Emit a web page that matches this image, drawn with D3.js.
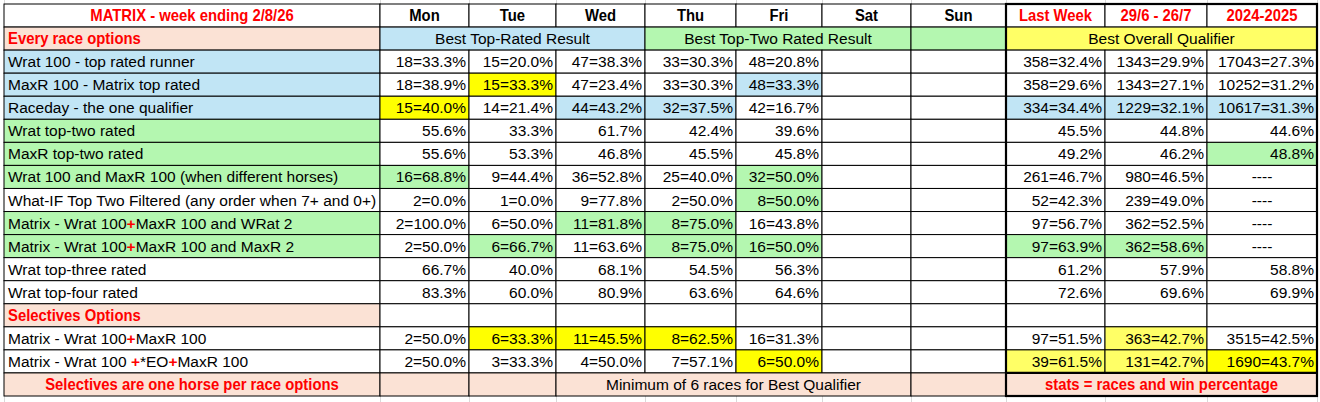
<!DOCTYPE html>
<html><head><meta charset="utf-8">
<script src="https://cdn.jsdelivr.net/npm/d3@7"></script>
<style>body{margin:0;background:#fff}svg{display:block}text{font-family:"Liberation Sans Narrow","Arial Narrow","Liberation Sans",sans-serif}</style>
</head><body><svg id="c" width="1320" height="402"></svg>
<script>
const title = "MATRIX - week ending 2/8/26";
const columns = ["Mon","Tue","Wed","Thu","Fri","Sat","Sun","Last Week","29/6 - 26/7","2024-2025"];
const rowLabels = [
 "Wrat 100 - top rated runner","MaxR 100 - Matrix top rated","Raceday - the one qualifier",
 "Wrat top-two rated","MaxR top-two rated","Wrat 100 and MaxR 100 (when different horses)",
 "What-IF Top Two Filtered (any order when 7+ and 0+)","Matrix - Wrat 100+MaxR 100 and WRat 2",
 "Matrix - Wrat 100+MaxR 100 and MaxR  2","Wrat top-three rated","Wrat top-four rated",
 "Selectives Options","Matrix - Wrat 100+MaxR 100","Matrix - Wrat 100 +*EO+MaxR 100"];
const mon = ["18=33.3%","18=38.9%","15=40.0%","55.6%","55.6%","16=68.8%","2=0.0%","2=100.0%","2=50.0%","66.7%","83.3%","","2=50.0%","2=50.0%"];
const tue = ["15=20.0%","15=33.3%","14=21.4%","33.3%","53.3%","9=44.4%","1=0.0%","6=50.0%","6=66.7%","40.0%","60.0%","","6=33.3%","3=33.3%"];
const wed = ["47=38.3%","47=23.4%","44=43.2%","61.7%","46.8%","36=52.8%","9=77.8%","11=81.8%","11=63.6%","68.1%","80.9%","","11=45.5%","4=50.0%"];
const thu = ["33=30.3%","33=30.3%","32=37.5%","42.4%","45.5%","25=40.0%","2=50.0%","8=75.0%","8=75.0%","54.5%","63.6%","","8=62.5%","7=57.1%"];
const fri = ["48=20.8%","48=33.3%","42=16.7%","39.6%","45.8%","32=50.0%","8=50.0%","16=43.8%","16=50.0%","56.3%","64.6%","","16=31.3%","6=50.0%"];
const sat = Array(14).fill("");
const sun = Array(14).fill("");
const lastWeek = ["358=32.4%","358=29.6%","334=34.4%","45.5%","49.2%","261=46.7%","52=42.3%","97=56.7%","97=63.9%","61.2%","72.6%","","97=51.5%","39=61.5%"];
const month = ["1343=29.9%","1343=27.1%","1229=32.1%","44.8%","46.2%","980=46.5%","239=49.0%","362=52.5%","362=58.6%","57.9%","69.6%","","363=42.7%","131=42.7%"];
const season = ["17043=27.3%","10252=31.2%","10617=31.3%","44.6%","48.8%","----","----","----","----","58.8%","69.9%","","3515=42.5%","1690=43.7%"];
const sectionHeaders = ["Best Top-Rated Result","Best Top-Two Rated Result","Best Overall Qualifier"];
const footer = ["Selectives are one horse per race options","Minimum of 6 races for Best Qualifier","stats = races and win percentage"];
const labelFill = ["b","b","b","g","g","g","","g","g","","","s","",""];
const cellFill = [
 "..........",".y..b.....","y.bb...bbb","..........",".........g","g...g.....",
 "....g.....","..gg......",".g.gg..gg.","..........","..........","..........",".yyy....l.","....y..lly"];

const C = {b:"#c1e5f5",g:"#b4f7b0",y:"#ffff00",l:"#ffff66",s:"#fbe2d5"};
const edges=[4,380,469,556,645,736,822,911,1006,1105,1207,1317];
const svg=d3.select("#c");
const nRows=17;
const y=d3.scaleBand().domain(d3.range(nRows)).range([4,396]);
const rh=y.bandwidth();
const cols=[mon,tue,wed,thu,fri,sat,sun,lastWeek,month,season];
const fs=15.5, bs=15;
function rect(x0,x1,r,fill){svg.append("rect").attr("x",x0).attr("y",y(r)).attr("width",x1-x0).attr("height",rh).attr("fill",fill||"#fff").attr("stroke","#000").attr("stroke-width",1);}
function txt(s,x,r,anchor,opt={}){const t=svg.append("text").attr("x",x).attr("y",y(r)+rh/2+5.5).attr("text-anchor",anchor).attr("font-size",opt.size||fs).attr("font-weight",opt.bold?"bold":"normal").attr("fill",opt.color||"#000").text(s); if(opt.bold) t.attr("transform",`translate(${x},0) scale(0.9,1) translate(${-x},0)`); return t;}
svg.append("g").selectAll("line").data(edges).join("line").attr("x1",d=>d+.5).attr("x2",d=>d+.5).attr("y1",0).attr("y2",402).attr("stroke","#d9d9d9");
rect(edges[0],edges[1],0);txt(title,(edges[0]+edges[1])/2,0,"middle",{bold:true,color:"#f00",size:16.5});
columns.forEach((c,i)=>{rect(edges[i+1],edges[i+2],0);txt(c,(edges[i+1]+edges[i+2])/2,0,"middle",{bold:true,color:i>6?"#f00":"#000",size:16.5});});
rect(edges[0],edges[1],1,C.s);txt("Every race options",edges[0]+4,1,"start",{bold:true,color:"#f00",size:16.5});
rect(edges[1],edges[4],1,C.b);txt(sectionHeaders[0],(edges[1]+edges[4])/2,1,"middle");
rect(edges[4],edges[7],1,C.g);txt(sectionHeaders[1],(edges[4]+edges[7])/2,1,"middle");
rect(edges[7],edges[8],1,C.g);
rect(edges[8],edges[11],1,C.l);txt(sectionHeaders[2],(edges[8]+edges[11])/2,1,"middle");
rowLabels.forEach((lab,i)=>{
 const r=i+2;
 rect(edges[0],edges[1],r,C[labelFill[i]]);
 if(lab==="Selectives Options"){txt(lab,edges[0]+4,r,"start",{bold:true,color:"#f00",size:16.5});}
 else if(lab.startsWith("Matrix")){
  const t=txt("",edges[0]+4,r,"start");
  lab.split(/(\+)/).forEach(p=>t.append("tspan").attr("fill",p==="+"?"#f00":"#000").attr("font-weight",p==="+"?"bold":"normal").text(p));
 } else txt(lab,edges[0]+4,r,"start");
 cols.forEach((arr,j)=>{
  rect(edges[j+1],edges[j+2],r,C[cellFill[i][j]]);
  const v=arr[i];
  if(v==="----") txt(v,(edges[j+1]+edges[j+2])/2,r,"middle");
  else txt(v,edges[j+2]-3,r,"end");
 });
});
const fr=16;
rect(edges[0],edges[1],fr,C.s);txt(footer[0],(edges[0]+edges[1])/2,fr,"middle",{bold:true,color:"#f00",size:16.5});
rect(edges[1],edges[2],fr,C.s);rect(edges[2],edges[3],fr,C.s);
rect(edges[3],edges[7],fr,C.s);txt(footer[1],(edges[3]+edges[7])/2,fr,"middle");
rect(edges[7],edges[8],fr,C.s);
rect(edges[8],edges[11],fr,C.s);txt(footer[2],(edges[8]+edges[11])/2,fr,"middle",{bold:true,color:"#f00",size:16.5});
svg.append("rect").attr("x",edges[8]).attr("y",4).attr("width",edges[11]-edges[8]).attr("height",392).attr("fill","none").attr("stroke","#000").attr("stroke-width",2.2);
svg.append("line").attr("x1",edges[8]).attr("x2",edges[11]).attr("y1",y(fr)).attr("y2",y(fr)).attr("stroke","#000").attr("stroke-width",2.2);
</script></body></html>
